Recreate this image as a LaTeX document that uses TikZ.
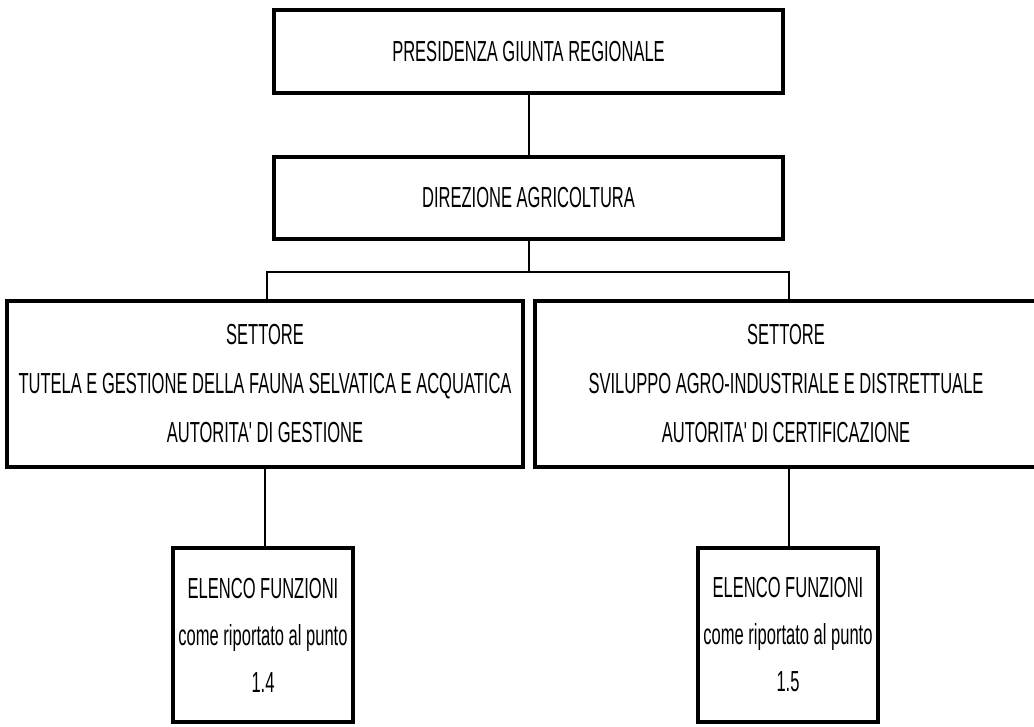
\documentclass[tikz,border=0pt]{standalone}
\usepackage{fontspec}
\setmainfont[FakeStretch=0.57,Ligatures=TeXOff]{Liberation Sans}
\begin{document}
\begin{tikzpicture}[x=1pt,y=-1pt,
  box/.style={draw=black, line width=3.4pt, inner sep=0pt, align=center, font=\fontsize{29}{49}\selectfont},
  elenco/.style={box, minimum width=180pt, minimum height=174pt, font=\fontsize{29}{47}\selectfont},
  link/.style={draw=black, line width=1.1pt}]
\useasboundingbox[fill=white] (0,0) rectangle (1034,726);
\node[box, minimum width=509pt, minimum height=83pt] (pres) at (528.5,51.5) {PRESIDENZA GIUNTA REGIONALE};
\node[box, minimum width=509pt, minimum height=82pt] (dir) at (528.5,198) {DIREZIONE AGRICOLTURA};
\node[box, minimum width=516pt, minimum height=166pt] (setL) at (265,384) {SETTORE\\TUTELA E GESTIONE DELLA FAUNA SELVATICA E ACQUATICA\\AUTORITA' DI GESTIONE};
\node[box, minimum width=502pt, minimum height=166pt] (setR) at (786,384) {SETTORE\\SVILUPPO AGRO-INDUSTRIALE E DISTRETTUALE\\AUTORITA' DI CERTIFICAZIONE};
\node[elenco] (elL) at (263,635) {ELENCO FUNZIONI\\come riportato al punto\\1.4};
\node[elenco] (elR) at (788,635) {ELENCO FUNZIONI\\come riportato al punto\\1.5};
\coordinate (jm) at (529,272);
\coordinate (hl) at (267,272);
\coordinate (hr) at (789,272);
\coordinate (cl) at (265,0);
\coordinate (cr) at (789,0);
\draw[link] (pres.south -| jm) -- (dir.north -| jm);
\draw[link] (dir.south -| jm) -- (jm);
\draw[link] (setL.north -| hl) -- (hl) -- (hr) -- (setR.north -| hr);
\draw[link] (setL.south -| cl) -- (elL.north -| cl);
\draw[link] (setR.south -| cr) -- (elR.north -| cr);
\end{tikzpicture}
\end{document}
